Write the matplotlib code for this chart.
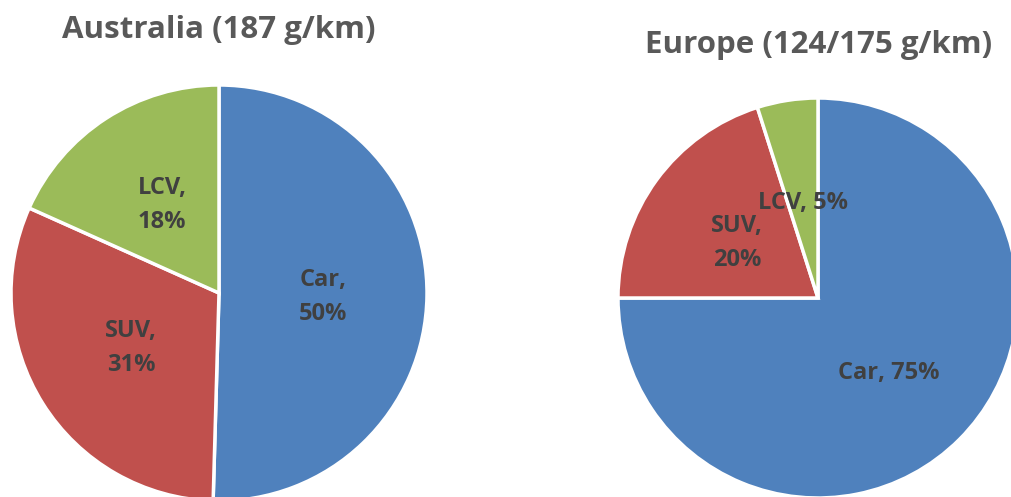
import matplotlib.pyplot as plt

plt.rcParams['font.family'] = ['Open Sans', 'DejaVu Sans']

# data
categories = ["Car", "SUV", "LCV"]
australia_share = [50.45, 31.25, 18.3]
australia_labels = ["Car,\n50%", "SUV,\n31%", "LCV,\n18%"]
europe_share = [75.0, 20.1, 4.9]
europe_labels = ["Car, 75%", "SUV,\n20%", "LCV, 5%"]
titles = ["Australia (187 g/km)", "Europe (124/175 g/km)"]

colors = ["#4F81BD", "#C0504D", "#9BBB59"]
W, H = 1011, 497

fig = plt.figure(figsize=(W / 100, H / 100), dpi=100)
ax = fig.add_axes([0, 0, 1, 1])

# layout in pixel coords (x, y from top)
pies = [
    dict(share=australia_share, labels=australia_labels, title=titles[0],
         center=(219, 293), radius=208, title_xy=(219, 30),
         label_xy=[(323, 297), (131, 348), (162, 205)]),
    dict(share=europe_share, labels=europe_labels, title=titles[1],
         center=(818, 298), radius=200, title_xy=(819, 45),
         label_xy=[(889, 373), (737, 243), (803, 203)]),
]

for p in pies:
    cx, cy = p["center"]
    wedges, texts = ax.pie(p["share"], colors=colors, startangle=90,
                           counterclock=False, center=(cx, H - cy),
                           radius=p["radius"], labels=p["labels"],
                           wedgeprops=dict(edgecolor="white", linewidth=2.5),
                           textprops=dict(fontsize=17, fontweight="bold",
                                          color="#404040", linespacing=1.55))
    for t, (lx, ly) in zip(texts, p["label_xy"]):
        t.set_position((lx, H - ly))
        t.set_ha("center")
        t.set_va("center")
    tx, ty = p["title_xy"]
    ax.text(tx, H - ty, p["title"], ha="center", va="center",
            fontsize=22.5, fontweight="bold", color="#595959")

ax.set_xlim(0, W)
ax.set_ylim(0, H)
ax.set_aspect("auto")
ax.axis("off")

fig.savefig("out.png", dpi=100)
